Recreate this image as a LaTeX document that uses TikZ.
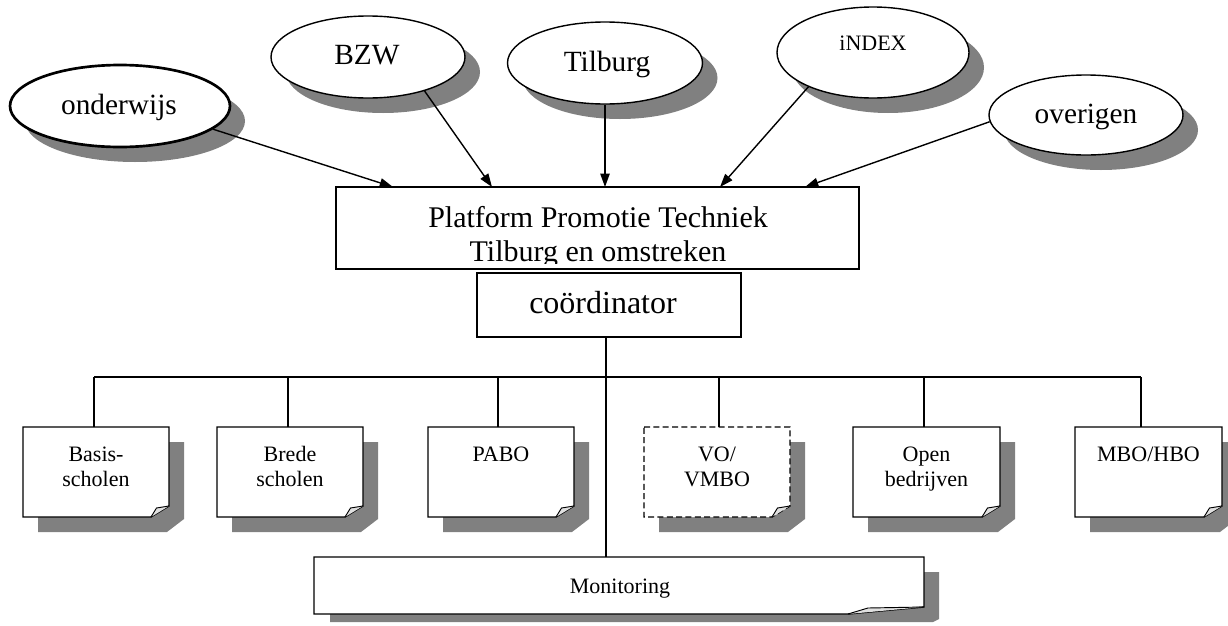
\documentclass[tikz,border=0pt]{standalone}
\usepackage{fontspec}
\setmainfont{Liberation Serif}
\usetikzlibrary{arrows.meta,shapes.geometric}
\definecolor{shd}{gray}{0.5}
\definecolor{foldc}{gray}{0.88}
\newcommand{\ovalnode}[6]{%
  \fill[shd] ({#2+15},{#3+15}) ellipse [x radius={#4*0.375pt}, y radius={#5*0.375pt}];
  \node[ell, minimum width={#4*0.75pt}, minimum height={#5*0.75pt}, #6] (#1) at (#2,#3) {};
}
% name, x1, y1, x2, y2, style, text
\newcommand{\foldbox}[7]{%
  \fill[shd] ({#2+15},{#3+15}) -- ({#4+15},{#3+15}) -- ({#4+15},{#5+2}) -- ({#4-2},{#5+15}) -- ({#2+15},{#5+15}) -- cycle;
  \node[inner sep=0pt, outer sep=0pt, minimum width={(#4-#2)*0.75pt}, minimum height={(#5-#3)*0.75pt}, anchor=north west] (#1) at (#2,#3) {};
  \draw[fill=white, #6] (#2,#3) -- (#4,#3) -- ({#4},{#5-11}) -- ({#4-18},{#5}) -- (#2,#5) -- cycle;
  \filldraw[fill=foldc, line width=0.7pt] ({#4-18},{#5}) -- ({#4-12.5},{#5-9}) -- ({#4},{#5-11});
  \node[boxtxt] (#1T) at ({(#2+#4)/2},{#3+19}) {#7};
}
\begin{document}
\begin{tikzpicture}[x=0.75pt,y=-0.75pt, line width=1.05pt,
  ell/.style={ellipse, draw, fill=white, inner sep=0pt},
  arr/.style={-{Triangle[length=10pt,width=7pt]}},
  big/.style={font=\fontsize{22}{26}\selectfont, anchor=base, inner sep=0pt},
  mid/.style={font=\fontsize{22.5}{26}\selectfont, anchor=base, inner sep=0pt},
  small/.style={font=\fontsize{16.5}{18.75}\selectfont, anchor=base, inner sep=0pt},
  boxtxt/.style={font=\fontsize{16.5}{18.75}\selectfont, anchor=north, inner sep=0pt, align=center},
  plain/.style={draw, fill=white, inner sep=0pt, outer sep=0pt, anchor=north west},
]
\useasboundingbox (0,0) rectangle (1228,625);

% ellipses
\ovalnode{ond}{120}{106}{220}{82}{line width=2pt}
\ovalnode{bzw}{368}{57}{194}{82}{}
\ovalnode{til}{605}{63}{195}{82}{}
\ovalnode{idx}{873}{52.5}{192}{91}{}
\ovalnode{ove}{1086}{115}{194}{80}{}
\node[big] (ondT) at (119,114) {onderwijs};
\node[big] (bzwT) at (367,64) {BZW};
\node[big] (tilT) at (607,71) {Tilburg};
\node[small] (idxT) at (873,50) {iNDEX};
\node[big] (oveT) at (1086,123) {overigen};

% platform box
\node[plain, minimum width=392.25pt, minimum height=61.5pt] (plat) at (336,187) {};
\begin{scope}
  \clip (336,187) rectangle (859,263);
  \node[mid] (platA) at (598,227) {Platform Promotie Techniek};
  \node[mid] (platB) at (598,261) {Tilburg en omstreken};
\end{scope}

\coordinate (t1) at (393,187);
\coordinate (t2) at (492,187);
\coordinate (t3) at (605,187);
\coordinate (t4) at (720,187);
\coordinate (t5) at (805,187);
\draw[arr] (ond.-14) -- (t1);
\draw[arr] (bzw.-31) -- (t2);
\draw[arr] (til.south) -- (t3);
\draw[arr] (idx.208) -- (t4);
\draw[arr] (ove.184.7) -- (t5);

% coordinator
\node[plain, minimum width=198pt, minimum height=48pt] (coord) at (477,273) {};
\node[font=\fontsize{24}{28}\selectfont, anchor=base, inner sep=0pt] (coordT) at (603,313) {coördinator};

% monitoring
\fill[shd] (330,572) -- (939,572) -- (939,619) -- (933,622) -- (330,622) -- cycle;
\node[inner sep=0pt, outer sep=0pt, minimum width=457.5pt, minimum height=42.75pt, anchor=north west] (mon) at (314,557) {};
\draw[fill=white] (314,557) -- (924,557) -- (924,607) -- (848,614) -- (314,614) -- cycle;
\filldraw[fill=foldc, line width=0.7pt] (848,614) -- (868,608) -- (924,607);
\node[small] (monT) at (620,593) {Monitoring};

% boxes
\foldbox{b1}{23}{427}{169}{517}{}{Basis-\\scholen}
\foldbox{b2}{217}{427}{363}{517}{}{Brede\\scholen}
\foldbox{b3}{428}{427}{574}{517}{}{PABO}
\foldbox{b4}{644}{427}{790}{517}{dashed, dash pattern=on 4.5pt off 2.5pt}{VO/\\VMBO}
\foldbox{b5}{853}{427}{1000}{517}{}{Open\\bedrijven}
\foldbox{b6}{1075}{427}{1222}{517}{}{MBO/HBO}

% connectors
\coordinate (busL) at (94,377);
\coordinate (busR) at (1141,377);
\draw (busL) -- (busR);
\draw (606,337) -- (606,557);
\draw (busL) -- (busL |- b1.north);
\draw (288,377) -- (288,427);
\draw (498,377) -- (498,427);
\draw (719,377) -- (719,427);
\draw (924,377) -- (924,427);
\draw (busR) -- (busR |- b6.north);
\end{tikzpicture}
\end{document}
